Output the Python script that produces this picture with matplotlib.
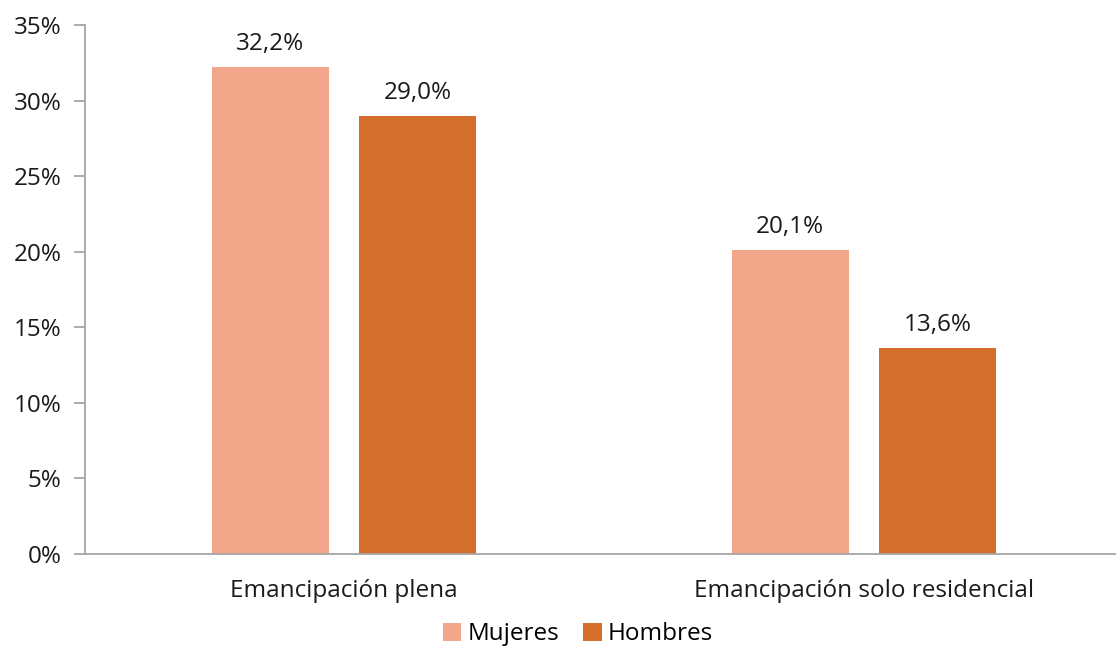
import numpy as np
import matplotlib.pyplot as plt
from matplotlib.ticker import FuncFormatter

# data
categorias = ["Emancipación plena", "Emancipación solo residencial"]
mujeres = [32.2, 20.1]
hombres = [29.0, 13.6]
series = ["Mujeres", "Hombres"]
yticks = [0, 5, 10, 15, 20, 25, 30, 35]

col_muj = "#F2A78A"
col_hom = "#D46E2C"
gris = "#A6A6A6"

plt.rcParams['font.family'] = ['Open Sans', 'DejaVu Sans']

fig = plt.figure(figsize=(11.16, 6.46), dpi=100)
ax = fig.add_axes([0.0762, 0.1424, 0.9238, 0.8189])

x = np.arange(len(categorias))
w = 0.225
off = 0.142
b1 = ax.bar(x - off, mujeres, w, color=col_muj, label=series[0])
b2 = ax.bar(x + off, hombres, w, color=col_hom, label=series[1])

def fmt(v):
    return f"{v:.1f}%".replace(".", ",")

for bars, vals in ((b1, mujeres), (b2, hombres)):
    for r, v in zip(bars, vals):
        ax.annotate(fmt(v), (r.get_x() + r.get_width() / 2, v),
                    xytext=(0, 8), textcoords="offset points",
                    ha="center", va="bottom", fontsize=17.5, color="#1a1a1a")

ax.set_xlim(-0.498, 1.485)
ax.set_ylim(0, 35)
ax.set_yticks(yticks)
ax.yaxis.set_major_formatter(FuncFormatter(lambda v, p: f"{v:.0f}%"))
ax.set_xticks(x)
ax.set_xticklabels(categorias)

for s in ("top", "right"):
    ax.spines[s].set_visible(False)
for s in ("left", "bottom"):
    ax.spines[s].set_color(gris)
    ax.spines[s].set_linewidth(1.3)

ax.tick_params(axis="y", length=8, width=1.3, color=gris, labelsize=17.5,
               labelcolor="#1a1a1a", pad=9)
ax.tick_params(axis="x", length=0, labelsize=17.5, labelcolor="#1a1a1a", pad=18)

fig.legend(loc="lower center", bbox_to_anchor=(0.518, -0.034), ncol=2,
           frameon=False, fontsize=17.5, handlelength=0.75, handleheight=0.75,
           handletextpad=0.25, columnspacing=1.0)

fig.savefig("out.png", dpi=100)
